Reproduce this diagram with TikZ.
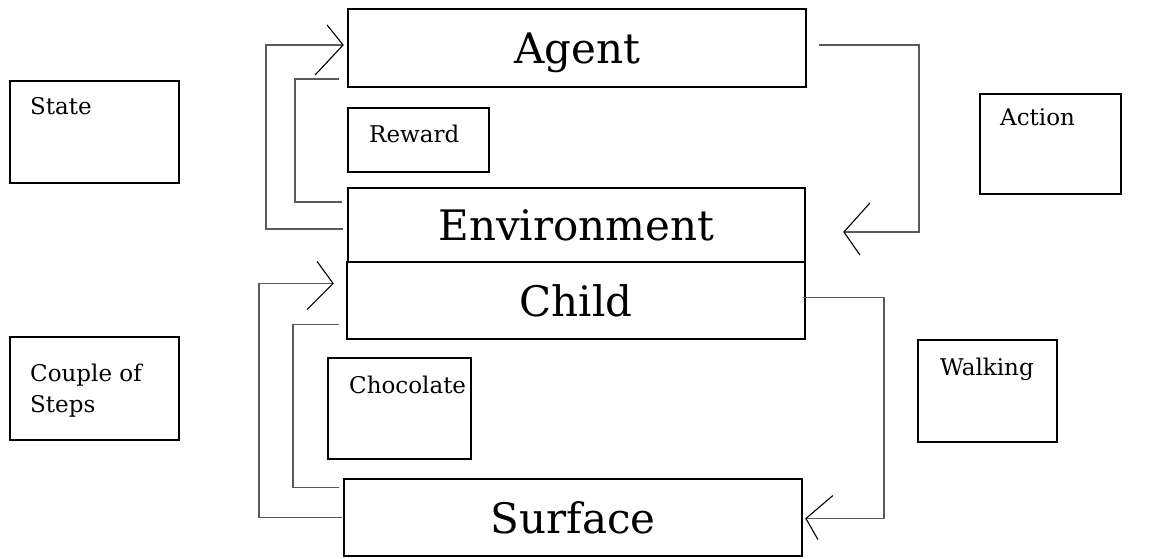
\documentclass[tikz,border=0pt]{standalone}
\usepackage{fontspec}
\setmainfont{DejaVu Serif}
\usepackage{tikz}
\usetikzlibrary{positioning,calc}

\begin{document}
\begin{tikzpicture}[
    x=1pt, y=-1pt,
    bigbox/.style={rectangle, draw, line width=1.8pt, inner sep=0pt, minimum width=458pt,
                   font=\fontsize{42}{50}\selectfont, text height=31pt, text depth=0pt},
    smallbox/.style={rectangle, draw, line width=1.8pt, inner sep=0pt, anchor=north west},
    lbl/.style={anchor=base west, inner sep=0pt, align=left, font=\fontsize{23}{31}\selectfont},
    link/.style={line width=1.3pt, black!65},
    barb/.style={line width=1.1pt, black}
]
\useasboundingbox (0,0) rectangle (1149,559);

% =========================================================
% Main column
% =========================================================
\node[bigbox, minimum height=78pt] (agent) at (577,48)    {Agent};
\node[bigbox, minimum height=74pt, minimum width=457pt] (env) at (576.5,225) {Environment};
\node[bigbox, minimum height=77pt] (child) at (576,300.5) {Child};
\node[bigbox, minimum height=77pt] (surf)  at (573,517.5) {Surface};

% =========================================================
% Side labels
% =========================================================
\node[smallbox, minimum width=169pt, minimum height=102pt] (state)  at (9,80)    {};
\node[smallbox, minimum width=141pt, minimum height=64pt]  (reward) at (347,107) {};
\node[smallbox, minimum width=141pt, minimum height=100pt] (action) at (979,93)  {};
\node[smallbox, minimum width=169pt, minimum height=103pt] (couple) at (9,336)   {};
\node[smallbox, minimum width=143pt, minimum height=101pt] (choc)   at (327,357) {};
\node[smallbox, minimum width=139pt, minimum height=102pt] (walk)   at (917,339) {};

\node[lbl] (state_t)  at ([shift={(21,35)}]state.north west)  {State};
\node[lbl] (reward_t) at ([shift={(22,36)}]reward.north west) {Reward};
\node[lbl] (action_t) at ([shift={(21,33)}]action.north west) {Action};
\node[lbl] (couple_t) at ([shift={(21,76)}]couple.north west) {Couple of\\Steps};
\node[lbl] (choc_t)   at ([shift={(22,36)}]choc.north west)   {Chocolate};
\node[lbl] (walk_t)   at ([shift={(23,36)}]walk.north west)   {Walking};

% =========================================================
% Upper loops: Environment <-> Agent
% =========================================================
\draw[link] ([shift={(-4,4)}]env.west) -- ++(-77,0) |- ([shift={(-4,-3)}]agent.west);
\draw[barb] ([shift={(-20,-23)}]agent.west) -- ([shift={(-4,-3)}]agent.west) -- ([shift={(-32,27)}]agent.west);
\draw[link] ([shift={(-5,-23)}]env.west) -- ++(-47,0) |- ([shift={(-8,31)}]agent.west);

\draw[link] ([shift={(12,-3)}]agent.east) -- ++(100,0) |- ([shift={(38,7)}]env.east);
\draw[barb] ([shift={(64,-22)}]env.east) -- ([shift={(38,7)}]env.east) -- ([shift={(54,30)}]env.east);

% =========================================================
% Lower loops: Surface <-> Child
% =========================================================
\draw[link] ([shift={(-1,0)}]surf.west) -- ++(-83,0) |- ([shift={(-13,-17)}]child.west);
\draw[barb] ([shift={(-29,-39)}]child.west) -- ([shift={(-13,-17)}]child.west) -- ([shift={(-39,9)}]child.west);
\draw[link] ([shift={(-7,24)}]child.west) -- ++(-46,0) |- ([shift={(-4,-30)}]surf.west);

\draw[link] ([shift={(-3,-3)}]child.east) -- ++(81,0) |- ([shift={(3,1)}]surf.east);
\draw[barb] ([shift={(30,-22)}]surf.east) -- ([shift={(3,1)}]surf.east) -- ([shift={(15,22)}]surf.east);

\end{tikzpicture}
\end{document}
